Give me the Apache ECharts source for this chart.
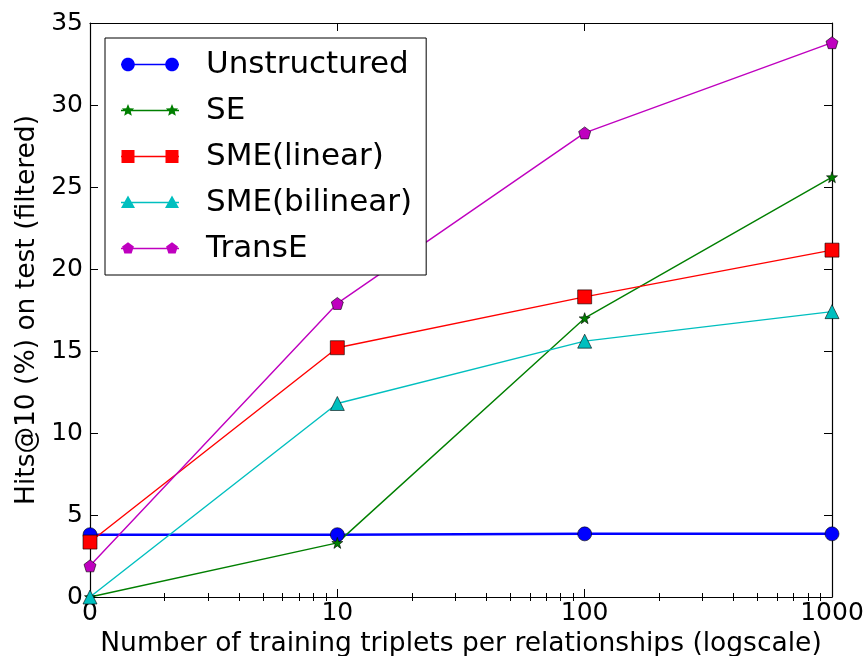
<!DOCTYPE html>
<html>
<head>
<meta charset="utf-8">
<script src="https://cdn.jsdelivr.net/npm/echarts@6/dist/echarts.min.js"></script>
<style>html,body{margin:0;padding:0;background:#fff}#c{width:866px;height:656px}</style>
</head>
<body>
<div id="c"></div>
<script>
// x positions on log axis: the "0" category is drawn at 1
const xValues = [1, 10, 100, 1000];
const xTickLabels = ['0', '10', '100', '1000'];
const minorTicks = [2,3,4,5,6,7,8,9,20,30,40,50,60,70,80,90,200,300,400,500,600,700,800,900];
const seriesNames = ['Unstructured', 'SE', 'SME(linear)', 'SME(bilinear)', 'TransE'];
const unstructured = [3.8, 3.8, 3.85, 3.85];
const se = [0.0, 3.3, 17.0, 25.6];
const smeLinear = [3.35, 15.2, 18.3, 21.15];
const smeBilinear = [0.0, 11.8, 15.6, 17.4];
const transE = [1.9, 17.9, 28.3, 33.8];

const STAR = 'path://M0,-10 L2.35,-3.24 L9.51,-3.09 L3.8,1.24 L5.88,8.09 L0,4 L-5.88,8.09 L-3.8,1.24 L-9.51,-3.09 L-2.35,-3.24 Z';
const PENT = 'path://M0,-10 L9.51,-3.09 L5.88,8.09 L-5.88,8.09 L-9.51,-3.09 Z';

// legend glyphs: line with a marker at each end (matplotlib style)
const LW = 58, LH = 14;
function poly(p){ return 'M' + p.map(q => q[0].toFixed(2) + ',' + q[1].toFixed(2)).join(' L') + ' Z '; }
function circ(cx, cy, r){ const p=[]; for(let i=0;i<32;i++){const a=i/32*2*Math.PI; p.push([cx+r*Math.cos(a), cy+r*Math.sin(a)]);} return poly(p); }
function sq(cx, cy, h){ return poly([[cx-h,cy-h],[cx+h,cy-h],[cx+h,cy+h],[cx-h,cy+h]]); }
function tri(cx, cy, h){ return poly([[cx,cy-h],[cx+h,cy+h*0.8],[cx-h,cy+h*0.8]]); }
function starP(cx, cy, R){ const p=[]; for(let i=0;i<10;i++){const r=i%2?R*0.45:R; const a=-Math.PI/2+i*Math.PI/5; p.push([cx+r*Math.cos(a), cy+r*Math.sin(a)]);} return poly(p); }
function pentP(cx, cy, R){ const p=[]; for(let i=0;i<5;i++){const a=-Math.PI/2+i*2*Math.PI/5; p.push([cx+R*Math.cos(a), cy+R*Math.sin(a)]);} return poly(p); }
function legendIcon(fn, size){
  const c = LH/2;
  return 'path://M0,0 L0,0 M' + LW + ',' + LH + ' L' + LW + ',' + LH + ' ' +
    poly([[0,c-0.7],[LW,c-0.7],[LW,c+0.7],[0,c+0.7]]) + fn(7, c, size) + fn(LW-7, c, size);
}
const legendIcons = [
  legendIcon(circ, 6.8), legendIcon(starP, 6.5), legendIcon(sq, 6.5), legendIcon(tri, 7), legendIcon(pentP, 6.2)
];

const FONT = 'DejaVu Sans';
function pts(ys){ return xValues.map((x,i)=>[x, ys[i]]); }
function mk(name, ys, color, symbol, size, lw){
  return {
    name, type:'line', data: pts(ys), xAxisIndex:0, yAxisIndex:0,
    symbol, symbolSize: size, showSymbol:true,
    lineStyle:{color, width: lw},
    itemStyle:{color, borderColor:'#000', borderWidth:0.6},
    emphasis:{disabled:true}, animation:false, clip:false
  };
}
const xBase = {type:'log', logBase:10, min:1, max:1000, gridIndex:0};
const chart = echarts.init(document.getElementById('c'), null, {renderer:'canvas'});
chart.setOption({
  backgroundColor:'#fff',
  animation:false,
  textStyle:{fontFamily:FONT},
  grid:{left:90, right:34, top:23, bottom:59, containLabel:false, outerBoundsMode:'none'},
  legend:{
    show:true, orient:'vertical', left:105, top:38,
    data: seriesNames.map((n,i)=>({name:n, icon: legendIcons[i], itemStyle:{borderWidth:0}})),
    backgroundColor:'#fff', borderColor:'#000', borderWidth:1, borderRadius:0,
    padding:[11, 14, 11, 16], itemGap:15, itemWidth:LW, itemHeight:LH,
    itemStyle:{borderWidth:0},
    textStyle:{fontFamily:FONT, fontSize:31, color:'#000', padding:[0,0,0,22]}
  },
  xAxis:[
    Object.assign({}, xBase, {position:'bottom',
      name:'Number of training triplets per relationships (logscale)', nameLocation:'middle', nameGap:24,
      nameTextStyle:{fontFamily:FONT, fontSize:26.5, color:'#000'},
      axisLine:{show:true, onZero:false, lineStyle:{color:'#000', width:1.2}},
      axisTick:{show:true, inside:true, length:8, lineStyle:{color:'#000'}, customValues: xValues},
      axisLabel:{show:true, fontFamily:FONT, fontSize:25, color:'#000', margin:4, customValues: xValues,
        formatter: v => xTickLabels[xValues.indexOf(v)] ?? ''},
      splitLine:{show:false}}),
    Object.assign({}, xBase, {position:'bottom',
      axisLine:{show:false}, axisLabel:{show:false}, splitLine:{show:false},
      axisTick:{show:true, inside:true, length:4, lineStyle:{color:'#000'}, customValues: minorTicks}}),
    Object.assign({}, xBase, {position:'top',
      axisLine:{show:true, onZero:false, lineStyle:{color:'#000', width:1.2}}, axisLabel:{show:false}, splitLine:{show:false},
      axisTick:{show:true, inside:true, length:8, lineStyle:{color:'#000'}, customValues: xValues}}),
    Object.assign({}, xBase, {position:'top',
      axisLine:{show:false}, axisLabel:{show:false}, splitLine:{show:false},
      axisTick:{show:true, inside:true, length:4, lineStyle:{color:'#000'}, customValues: minorTicks}})
  ],
  yAxis:[
    {type:'value', min:0, max:35, interval:5, position:'left',
      name:'Hits@10 (%) on test (filtered)', nameLocation:'middle', nameGap:47,
      nameTextStyle:{fontFamily:FONT, fontSize:26.5, color:'#000'},
      axisLine:{show:true, onZero:false, lineStyle:{color:'#000', width:1.2}},
      axisTick:{show:true, inside:true, length:8, lineStyle:{color:'#000'}},
      axisLabel:{fontFamily:FONT, fontSize:25, color:'#000', margin:7},
      splitLine:{show:false}},
    {type:'value', min:0, max:35, interval:5, position:'right',
      axisLine:{show:true, onZero:false, lineStyle:{color:'#000', width:1.2}},
      axisTick:{show:true, inside:true, length:8, lineStyle:{color:'#000'}},
      axisLabel:{show:false}, splitLine:{show:false}}
  ],
  series:[
    mk('Unstructured', unstructured, '#0000ff', 'circle', 14, 2.5),
    mk('SE', se, '#007f00', STAR, 11, 1.4),
    mk('SME(linear)', smeLinear, '#ff0000', 'rect', 14, 1.4),
    mk('SME(bilinear)', smeBilinear, '#00bfbf', 'triangle', 14, 1.4),
    mk('TransE', transE, '#bf00bf', PENT, 12, 1.4)
  ]
});
</script>
</body>
</html>
